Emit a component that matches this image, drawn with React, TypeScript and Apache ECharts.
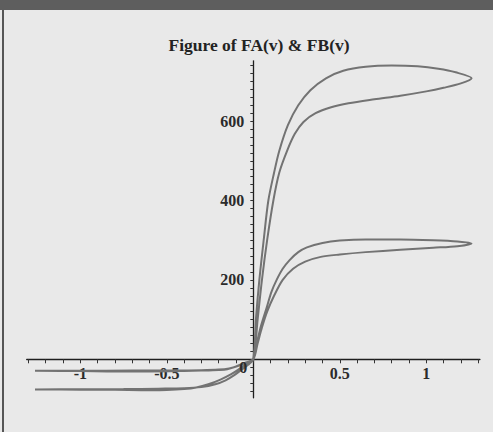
import React, { useEffect, useRef } from "react";
import * as echarts from "echarts";

const TITLE = "Figure of FA(v) & FB(v)";

const X_LABELS = [-1, -0.5, 0.5, 1];
const ZERO_LABEL = "0";
const Y_LABELS = [200, 400, 600];
const X_TICKS = [-1.3, -1.2, -1.1, -1, -0.9, -0.8, -0.7, -0.6, -0.5, -0.4, -0.3, -0.2, -0.1, 0, 0.1, 0.2, 0.3, 0.4, 0.5, 0.6, 0.7, 0.8, 0.9, 1, 1.1, 1.2, 1.3];
const Y_TICKS = [-80, -60, -40, -20, 0, 20, 40, 60, 80, 100, 120, 140, 160, 180, 200, 220, 240, 260, 280, 300, 320, 340, 360, 380, 400, 420, 440, 460, 480, 500, 520, 540, 560, 580, 600, 620, 640, 660, 680, 700, 720, 740];

// FA(v): velocity increasing branch
const FA_RISE_V = [-1.262, -1.0, -0.8, -0.6, -0.5, -0.4, -0.33, -0.26, -0.19, -0.13, -0.08, -0.04, 0, 0.025, 0.05, 0.08, 0.116, 0.15, 0.197, 0.24, 0.29, 0.36, 0.45, 0.55, 0.7, 0.85, 1.0, 1.1, 1.2, 1.262];
const FA_RISE_F = [-76, -76.5, -77, -78, -77.5, -75, -71, -63, -51, -38, -24, -11, 0, 100, 200, 300, 400, 470, 527, 568, 598, 620, 635, 645, 655, 664, 675, 684, 695, 708];
// FA(v): velocity decreasing branch
const FA_FALL_V = [1.262, 1.17, 1.07, 0.95, 0.8, 0.65, 0.52, 0.42, 0.33, 0.26, 0.2, 0.15, 0.12, 0.087, 0.06, 0.035, 0.015, 0, -0.03, -0.07, -0.11, -0.16, -0.22, -0.3, -0.4, -0.55, -0.75, -1.0, -1.262];
const FA_FALL_F = [708, 723, 732, 738, 740, 737, 727, 708, 678, 640, 590, 525, 470, 400, 300, 200, 100, 0, -14, -27, -40, -53, -63, -70, -73, -74, -75, -75.5, -76];

// FB(v): velocity increasing branch
const FB_RISE_V = [-1.262, -1.0, -0.8, -0.6, -0.4, -0.3, -0.2, -0.15, -0.1, -0.05, 0, 0.025, 0.05, 0.08, 0.12, 0.17, 0.23, 0.3, 0.39, 0.5, 0.65, 0.85, 1.04, 1.18, 1.262];
const FB_RISE_F = [-29, -29.5, -30.5, -30.5, -29.5, -28.5, -27, -25, -18, -9, 0, 40, 80, 120, 160, 200, 228, 246, 258, 264, 270, 276, 281, 285, 292];
// FB(v): velocity decreasing branch
const FB_FALL_V = [1.262, 1.18, 1.04, 0.85, 0.65, 0.5, 0.4, 0.31, 0.26, 0.21, 0.17, 0.135, 0.105, 0.077, 0.045, 0.02, 0, -0.04, -0.09, -0.14, -0.2, -0.3, -0.45, -0.7, -1.0, -1.262];
const FB_FALL_F = [292, 297, 300, 302, 302, 299, 293, 282, 270, 250, 228, 200, 170, 130, 85, 40, 0, -8, -17, -23, -26, -27.5, -28, -28.5, -28.7, -29];

const X_MIN = -1.31;
const X_MAX = 1.31;
const Y_MIN = -97;
const Y_MAX = 752;

const pairs = (vs: number[], fs: number[]) => vs.map((v, i) => [v, fs[i]]);

const SERIF = "'Liberation Serif', 'Times New Roman', serif";
const W = 493;
const H = 432;
const GRID = { left: 26.7, right: 13.1, top: 60.8, bottom: 34.2 };

export default function App() {
  const ref = useRef<HTMLDivElement>(null);
  useEffect(() => {
    document.body.style.margin = "0";
    const chart = echarts.init(ref.current!, undefined, { renderer: "svg" });
    const plotW = W - GRID.left - GRID.right;
    const plotH = H - GRID.top - GRID.bottom;
    const x0 = GRID.left + ((0 - X_MIN) / (X_MAX - X_MIN)) * plotW;
    const y0 = GRID.top + ((Y_MAX - 0) / (Y_MAX - Y_MIN)) * plotH;
    const labelStyle = {
      fontFamily: SERIF,
      fontWeight: "bold" as const,
      fontSize: 16,
      color: "#2b2b2b",
    };
    const curveStyle = { color: "#737373", width: 2 };
    chart.setOption({
      animation: false,
      backgroundColor: "#e9e9e9",
      title: {
        text: TITLE,
        left: 254,
        top: 31,
        textAlign: "center",
        textStyle: { fontFamily: SERIF, fontWeight: "bold", fontSize: 17.5, color: "#232323" },
      },
      grid: { ...GRID, outerBoundsMode: "none" },
      xAxis: {
        type: "value",
        min: X_MIN,
        max: X_MAX,
        position: "bottom",
        offset: -(H - GRID.bottom - y0),
        splitLine: { show: false },
        axisLine: { onZero: false, lineStyle: { color: "#1e1e1e", width: 1.3 } },
        axisTick: { customValues: X_TICKS, length: 4, lineStyle: { color: "#333", width: 1 } },
        axisLabel: {
          customValues: X_LABELS,
          margin: 6,
          formatter: (v: number) => String(v),
          ...labelStyle,
        },
      },
      yAxis: {
        type: "value",
        min: Y_MIN,
        max: Y_MAX,
        position: "left",
        offset: -(x0 - GRID.left),
        splitLine: { show: false },
        axisLine: { onZero: false, lineStyle: { color: "#1e1e1e", width: 1.3 } },
        axisTick: { customValues: Y_TICKS, length: 3, lineStyle: { color: "#333", width: 1 } },
        axisLabel: {
          customValues: Y_LABELS,
          margin: 9,
          formatter: (v: number) => String(v),
          ...labelStyle,
        },
      },
      series: [
        {
          name: "FA(v)",
          type: "line",
          showSymbol: false,
          smooth: 0.3,
          lineStyle: curveStyle,
          data: [...pairs(FA_RISE_V, FA_RISE_F), ...pairs(FA_FALL_V, FA_FALL_F)],
        },
        {
          name: "FB(v)",
          type: "line",
          showSymbol: false,
          smooth: 0.3,
          lineStyle: curveStyle,
          data: [...pairs(FB_RISE_V, FB_RISE_F), ...pairs(FB_FALL_V, FB_FALL_F)],
        },
      ],
    });
    const origin = chart.convertToPixel({ gridIndex: 0 }, [0, 0]) as number[];
    chart.setOption({
      graphic: [
        { type: "rect", shape: { x: 0, y: 0, width: W, height: 10 }, style: { fill: "#5e5e5e" }, silent: true },
        { type: "rect", shape: { x: 2, y: 10, width: 2, height: H - 10 }, style: { fill: "#565656" }, silent: true },
        {
          type: "text",
          z: 100,
          x: origin[0] - 10,
          y: origin[1] + 8,
          style: {
            text: ZERO_LABEL,
            align: "center",
            verticalAlign: "middle",
            fontFamily: SERIF,
            fontWeight: "bold",
            fontSize: 16,
            fill: "#2b2b2b",
          },
        },
      ],
    });
    return () => chart.dispose();
  }, []);
  return <div ref={ref} style={{ position: "absolute", left: 0, top: 0, width: W, height: H }} />;
}
